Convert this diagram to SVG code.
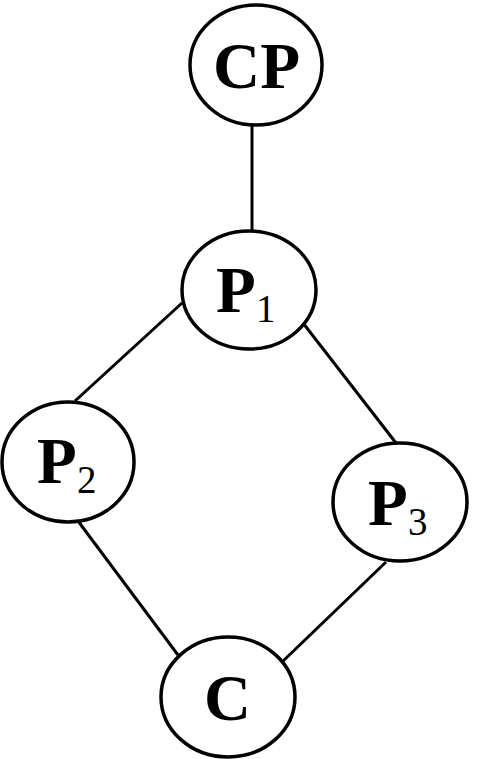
<svg xmlns="http://www.w3.org/2000/svg" width="477" height="759" viewBox="0 0 477 759">
<style>
.node{fill:#fff;stroke:#000;stroke-width:3.5}
.edge{stroke:#000;stroke-width:3;fill:none}
.lbl{font-family:"Liberation Serif","Times New Roman",serif;font-weight:bold;font-size:65px;fill:#000}
.sub{font-family:"Liberation Serif","Times New Roman",serif;font-weight:normal;font-size:39px;fill:#000}
</style>
<rect width="477" height="759" fill="#fff"/>
<g id="connectors">
<line class="edge" x1="252" y1="125" x2="252" y2="231"/>
<line class="edge" x1="182" y1="303" x2="75" y2="401"/>
<line class="edge" x1="303" y1="323" x2="396" y2="443"/>
<line class="edge" x1="78" y1="521" x2="178" y2="655"/>
<line class="edge" x1="386" y1="562" x2="281" y2="663"/>
</g>
<g id="CP">
<ellipse class="node" cx="256" cy="65" rx="66" ry="60"/>
<text class="lbl" x="213" y="88" textLength="87" lengthAdjust="spacingAndGlyphs">CP</text>
</g>
<g id="P1">
<ellipse class="node" cx="249" cy="290" rx="67" ry="59"/>
<text class="lbl" x="216" y="312">P</text>
<text class="sub" x="256" y="322">1</text>
</g>
<g id="P2">
<ellipse class="node" cx="68" cy="462" rx="66" ry="60"/>
<text class="lbl" x="37" y="483">P</text>
<text class="sub" x="77" y="493">2</text>
</g>
<g id="P3">
<ellipse class="node" cx="400" cy="502" rx="67" ry="59"/>
<text class="lbl" x="368" y="525">P</text>
<text class="sub" x="408" y="535">3</text>
</g>
<g id="C">
<ellipse class="node" cx="228" cy="697" rx="67" ry="60"/>
<text class="lbl" x="204" y="720">C</text>
</g>
</svg>
